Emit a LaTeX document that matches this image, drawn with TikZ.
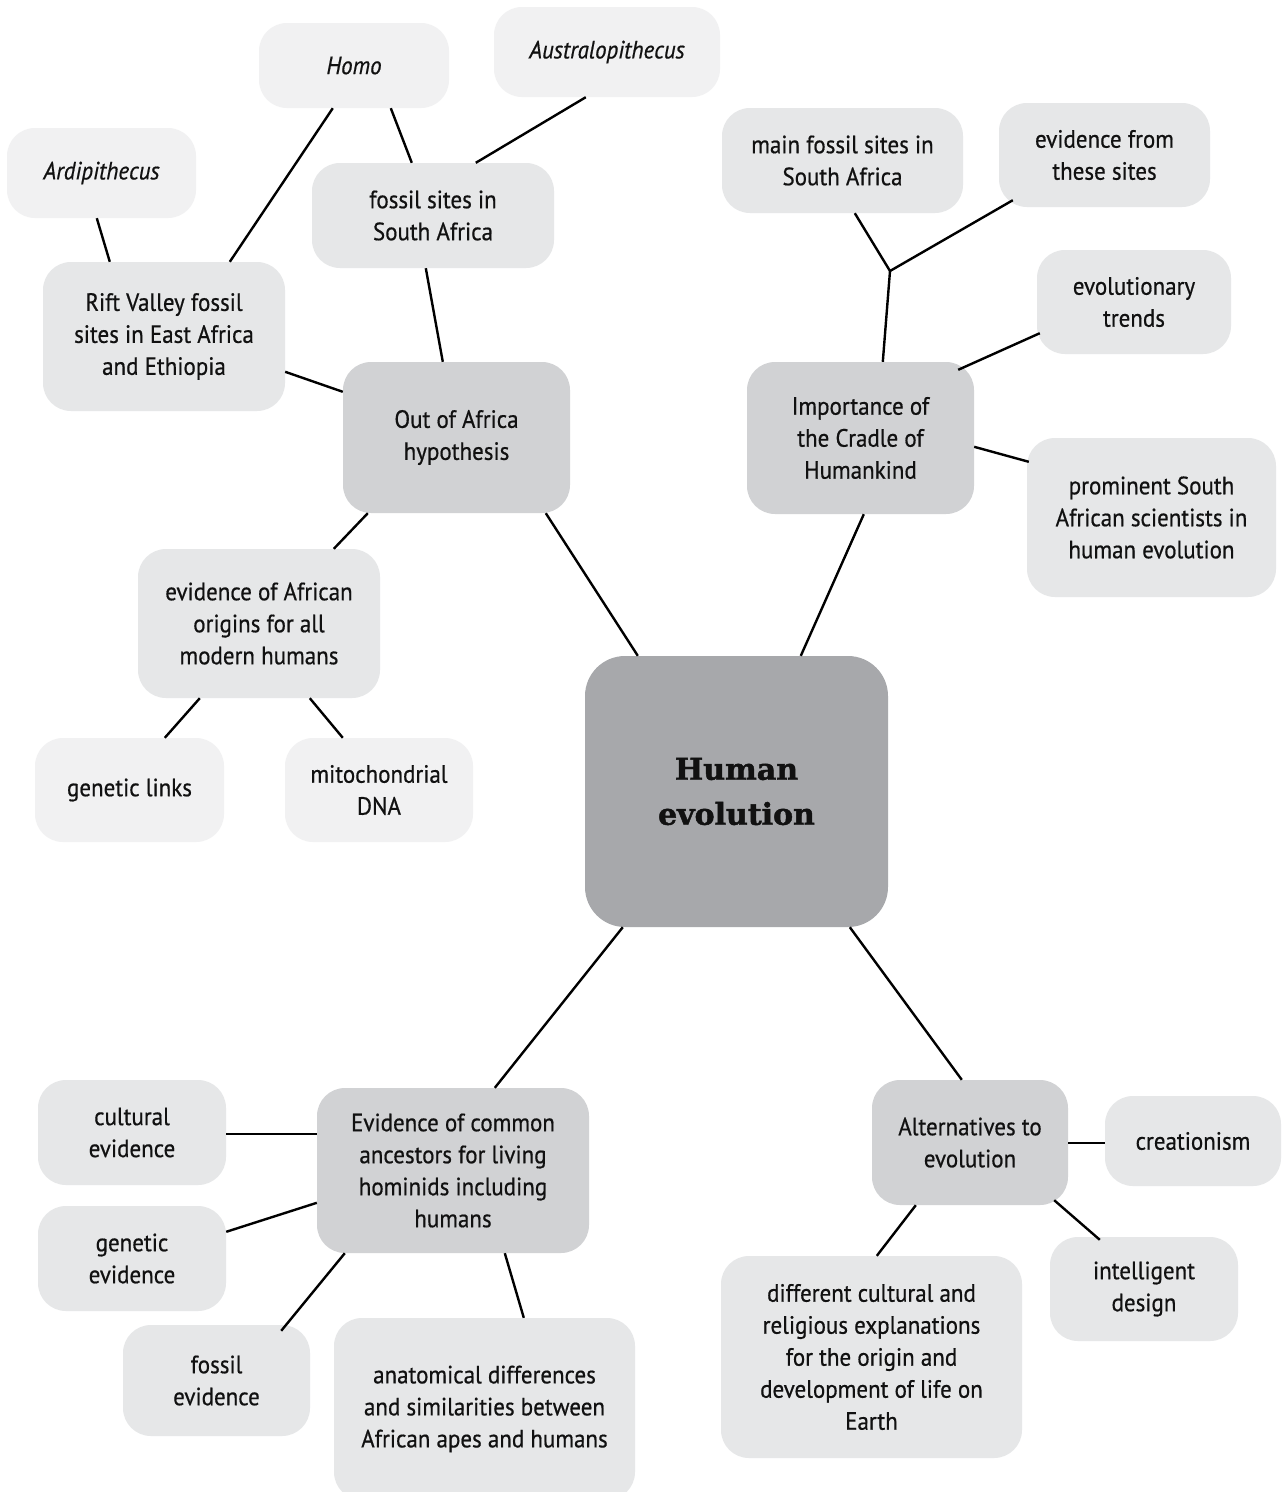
\documentclass[tikz,border=0pt]{standalone}
\usepackage{fontspec}
\setmainfont{PT Sans}[FakeStretch=0.92,FakeBold=0.6]
\newfontfamily\slabfont{DejaVu Serif}[FakeBold=1.5]
\usetikzlibrary{calc}
\definecolor{cmain}{HTML}{A7A8AB}
\definecolor{clvone}{HTML}{D1D2D4}
\definecolor{clvtwo}{HTML}{E6E7E8}
\definecolor{clvthree}{HTML}{F1F1F2}
\definecolor{ink}{HTML}{111111}
\begin{document}
\begin{tikzpicture}[x=1pt,y=-1pt,
  box/.style={rounded corners=28pt, inner sep=0pt, align=center, text=ink,
    font=\fontsize{25}{32}\selectfont},
  mainbox/.style={box, fill=cmain, rounded corners=40pt,
    font=\slabfont\bfseries\fontsize{30}{45}\selectfont},
  lvone/.style={box, fill=clvone},
  lvtwo/.style={box, fill=clvtwo},
  lvthree/.style={box, fill=clvthree},
  conn/.style={draw=black, line width=2.4pt}]
\useasboundingbox (0,0) rectangle (1285,1492);
\fill[white] (0,0) rectangle (1285,1492);

% nodes
\node[mainbox, minimum width=303pt, minimum height=271pt] (c) at (736.5,791.5) {Human\\evolution};

\node[lvone, minimum width=227pt, minimum height=151pt] (ooa) at (456.5,437.5) {Out of Africa\\hypothesis};
\node[lvone, minimum width=227pt, minimum height=152pt] (imp) at (860.5,438) {Importance of\\the Cradle of\\Humankind};
\node[lvone, minimum width=272pt, minimum height=165pt] (ecom) at (453,1170.5) {Evidence of common\\ancestors for living\\hominids including\\humans};
\node[lvone, minimum width=196pt, minimum height=125pt] (alt) at (970,1142.5) {Alternatives to\\evolution};

\node[lvtwo, minimum width=242pt, minimum height=149pt] (rift) at (164,336.5) {Rift Valley fossil\\sites in East Africa\\and Ethiopia};
\node[lvtwo, minimum width=242pt, minimum height=105pt] (fsa) at (433,215.5) {fossil sites in\\South Africa};
\node[lvthree, minimum width=190pt, minimum height=85pt] (homo) at (354,65.5) {\itshape Homo};
\node[lvthree, minimum width=226pt, minimum height=90pt] (austr) at (607,52) {\itshape Australopithecus};
\node[lvthree, minimum width=189pt, minimum height=90pt] (ardi) at (101.5,173) {\itshape Ardipithecus};
\node[lvtwo, minimum width=242pt, minimum height=149pt] (eao) at (259,623.5) {evidence of African\\origins for all\\modern humans};
\node[lvthree, minimum width=189pt, minimum height=104pt] (glinks) at (129.5,790) {genetic links};
\node[lvthree, minimum width=188pt, minimum height=104pt] (mito) at (379,790) {mitochondrial\\DNA};

\node[lvtwo, minimum width=241pt, minimum height=105pt] (mfs) at (842.5,160.5) {main fossil sites in\\South Africa};
\node[lvtwo, minimum width=211pt, minimum height=104pt] (efts) at (1104.5,155) {evidence from\\these sites};
\node[lvtwo, minimum width=194pt, minimum height=104pt] (evtr) at (1134,302) {evolutionary\\trends};
\node[lvtwo, minimum width=249pt, minimum height=159pt] (prom) at (1151.5,517.5) {prominent South\\African scientists in\\human evolution};

\node[lvtwo, minimum width=188pt, minimum height=105pt] (cult) at (132,1132.5) {cultural\\evidence};
\node[lvtwo, minimum width=188pt, minimum height=105pt] (genev) at (132,1258.5) {genetic\\evidence};
\node[lvtwo, minimum width=187pt, minimum height=111pt] (fosev) at (216.5,1380.5) {fossil\\evidence};
\node[lvtwo, minimum width=301pt, minimum height=182pt] (anat) at (484.5,1409) {anatomical differences\\and similarities between\\African apes and humans};

\node[lvtwo, minimum width=176pt, minimum height=90pt] (creat) at (1193,1141) {creationism};
\node[lvtwo, minimum width=188pt, minimum height=104pt] (intel) at (1144,1289) {intelligent\\design};
\node[lvtwo, minimum width=301pt, minimum height=202pt] (diff) at (871.5,1357) {different cultural and\\religious explanations\\for the origin and\\development of life on\\Earth};

\coordinate (j) at (890,271);

% connectors
\draw[conn] ([xshift=53pt]c.north west) -- ([xshift=203pt]ooa.south west);
\draw[conn] ([xshift=216pt]c.north west) -- ([xshift=117pt]imp.south west);
\draw[conn] ([xshift=38pt]c.south west) -- ([xshift=178pt]ecom.north west);
\draw[conn] ([xshift=265pt]c.south west) -- ([xshift=90pt]alt.north west);

\draw[conn] ([xshift=100pt]ooa.north west) -- ([xshift=114pt]fsa.south west);
\draw[conn] ([yshift=-30pt]ooa.north west) -- ([yshift=-110pt]rift.north east);
\draw[conn] ([xshift=25pt]ooa.south west) -- ([xshift=196pt]eao.north west);
\draw[conn] ([xshift=100pt]fsa.north west) -- ([xshift=132pt]homo.south west);
\draw[conn] ([xshift=164pt]fsa.north west) -- ([xshift=92pt]austr.south west);
\draw[conn] ([xshift=187pt]rift.north west) -- ([xshift=74pt]homo.south west);
\draw[conn] ([xshift=67pt]rift.north west) -- ([xshift=90pt]ardi.south west);
\draw[conn] ([xshift=62pt]eao.south west) -- ([xshift=130pt]glinks.north west);
\draw[conn] ([xshift=172pt]eao.south west) -- ([xshift=58pt]mito.north west);

\draw[conn] ([xshift=136pt]imp.north west) -- (j);
\draw[conn] (j) -- ([xshift=133pt]mfs.south west);
\draw[conn] (j) -- ([xshift=14pt,yshift=7pt]efts.south west);
\draw[conn] ([xshift=-16pt,yshift=-8pt]imp.north east) -- ([xshift=3pt,yshift=21pt]evtr.south west);
\draw[conn] ([yshift=-85pt]imp.north east) -- ([xshift=2pt,yshift=-24pt]prom.north west);

\draw[conn] ([yshift=-46pt]ecom.north west) -- ([yshift=-54pt]cult.north east);
\draw[conn] ([yshift=-115pt]ecom.north west) -- ([yshift=-26pt]genev.north east);
\draw[conn] ([xshift=28pt]ecom.south west) -- ([xshift=-29pt,yshift=-6pt]fosev.north east);
\draw[conn] ([xshift=188pt]ecom.south west) -- ([xshift=190pt]anat.north west);

\draw[conn] ([yshift=-63pt]alt.north east) -- ([yshift=-47pt]creat.north west);
\draw[conn] ([xshift=-14pt,yshift=5pt]alt.south east) -- ([xshift=50pt,yshift=-3pt]intel.north west);
\draw[conn] ([xshift=44pt]alt.south west) -- ([xshift=156pt]diff.north west);
\end{tikzpicture}
\end{document}
